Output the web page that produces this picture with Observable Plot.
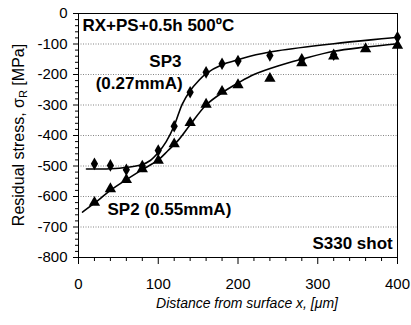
<!DOCTYPE html>
<html>
<head>
<meta charset="utf-8">
<script src="https://cdn.jsdelivr.net/npm/d3@7"></script>
<script src="https://cdn.jsdelivr.net/npm/@observablehq/plot@0.6"></script>
<style>
  html, body { margin: 0; padding: 0; background: white; }
</style>
</head>
<body>
<div id="chart"></div>
<script>
// ---- data ----
const xTicks = [0, 100, 200, 300, 400];
const xMinor = [20, 40, 60, 80, 120, 140, 160, 180, 220, 240, 260, 280, 320, 340, 360, 380];
const yTicks = [0, -100, -200, -300, -400, -500, -600, -700, -800];
const yMinor = [-20,-40,-60,-80,-120,-140,-160,-180,-220,-240,-260,-280,-320,-340,-360,-380,-420,-440,-460,-480,-520,-540,-560,-580,-620,-640,-660,-680,-720,-740,-760,-780];
const gridY = [-100, -200, -300, -400, -500, -600, -700];

// SP3 (0.27mmA) measured points (diamonds)
const sp3X = [20, 40, 60, 80, 100, 120, 140, 160, 180, 200, 240, 280, 320, 400];
const sp3Y = [-493, -498, -512, -500, -449, -370, -258, -193, -165, -156, -138, -150, -135, -78];
// SP2 (0.55mmA) measured points (triangles)
const sp2X = [20, 40, 60, 80, 100, 120, 140, 160, 180, 200, 240, 280, 320, 360, 400];
const sp2Y = [-620, -575, -545, -510, -482, -428, -358, -298, -256, -234, -213, -162, -140, -116, -105];

// fitted curves
const sp3FitX = [10, 40, 60, 80, 90, 100, 110, 120, 125, 130, 140, 150, 160, 180, 200, 215, 250, 320, 400];
const sp3FitY = [-510, -509, -505, -495, -482, -456, -420, -368, -332, -298, -253, -222, -197, -168, -152, -140, -122, -99, -78];
const sp2FitX = [5, 20, 40, 60, 80, 100, 112, 125, 140, 160, 180, 200, 220, 250, 280, 320, 360, 400];
const sp2FitY = [-651, -622, -580, -545, -512, -480, -450, -416, -365, -300, -260, -228, -200, -172, -150, -124, -110, -99];

const sp3 = sp3X.map((x, i) => ({x, y: sp3Y[i]}));
const sp2 = sp2X.map((x, i) => ({x, y: sp2Y[i]}));
const sp3Fit = sp3FitX.map((x, i) => ({x, y: sp3FitY[i]}));
const sp2Fit = sp2FitX.map((x, i) => ({x, y: sp2FitY[i]}));

const font = "'Liberation Sans', Arial, Helvetica, sans-serif";

const plot = Plot.plot({
  width: 411,
  height: 325,
  marginLeft: 78,
  marginRight: 14,
  marginTop: 13,
  marginBottom: 68,
  style: {fontFamily: font, background: "white", color: "black"},
  x: {domain: [0, 400]},
  y: {domain: [-800, 0]},
  marks: [
    Plot.ruleY(gridY, {stroke: "#777", strokeDasharray: "1,1.5", strokeWidth: 0.9}),
    Plot.axisX(xMinor, {tickSize: 4, tickFormat: () => "", label: null}),
    Plot.axisX(xTicks, {tickSize: 7, tickPadding: 14, fontSize: 15, label: null, tickFormat: d => String(d)}),
    Plot.axisY(yMinor, {tickSize: 3, tickFormat: () => "", label: null}),
    Plot.axisY(yTicks, {tickSize: 5, tickPadding: 6, fontSize: 15, label: null, tickFormat: d => String(d)}),
    Plot.frame({stroke: "black", strokeWidth: 1}),
    Plot.line(sp3Fit, {x: "x", y: "y", curve: "catmull-rom", stroke: "black", strokeWidth: 1.6}),
    Plot.line(sp2Fit, {x: "x", y: "y", curve: "catmull-rom", stroke: "black", strokeWidth: 1.6}),
    Plot.dot(sp3, {x: "x", y: "y", symbol: "diamond", r: 3.8, fill: "black", stroke: "none"}),
    Plot.dot(sp2, {x: "x", y: "y", symbol: "triangle", r: 4.2, fill: "black", stroke: "none"}),
    Plot.text(["RX+PS+0.5h 500ºC"], {x: 5, y: -39, text: d => d, textAnchor: "start", lineAnchor: "middle", fontSize: 17, fontWeight: "bold", fill: "black"}),
    Plot.text(["SP3"], {x: 109, y: -159, text: d => d, textAnchor: "middle", lineAnchor: "middle", fontSize: 17, fontWeight: "bold", fill: "black"}),
    Plot.text(["(0.27mmA)"], {x: 76, y: -230, text: d => d, textAnchor: "middle", lineAnchor: "middle", fontSize: 17, fontWeight: "bold", fill: "black"}),
    Plot.text(["SP2 (0.55mmA)"], {x: 114, y: -643, text: d => d, textAnchor: "middle", lineAnchor: "middle", fontSize: 17, fontWeight: "bold", fill: "black"}),
    Plot.text(["S330 shot"], {x: 394, y: -754, text: d => d, textAnchor: "end", lineAnchor: "middle", fontSize: 17, fontWeight: "bold", fill: "black"})
  ]
});

const svg = d3.select(plot);
// x axis title
svg.append("text")
  .attr("x", 247).attr("y", 308)
  .attr("text-anchor", "middle")
  .attr("font-family", font)
  .attr("font-size", 14)
  .attr("font-style", "italic")
  .attr("fill", "black")
  .text("Distance from surface x, [μm]");
// y axis title with subscript
const yl = svg.append("text")
  .attr("transform", "translate(24,135) rotate(-90)")
  .attr("text-anchor", "middle")
  .attr("font-family", font)
  .attr("font-size", 16)
  .attr("fill", "black");
yl.append("tspan").text("Residual stress, σ");
yl.append("tspan").attr("font-size", 11).attr("dy", 3).text("R");
yl.append("tspan").attr("dy", -3).text(" [MPa]");

document.getElementById("chart").appendChild(plot);
</script>
</body>
</html>
